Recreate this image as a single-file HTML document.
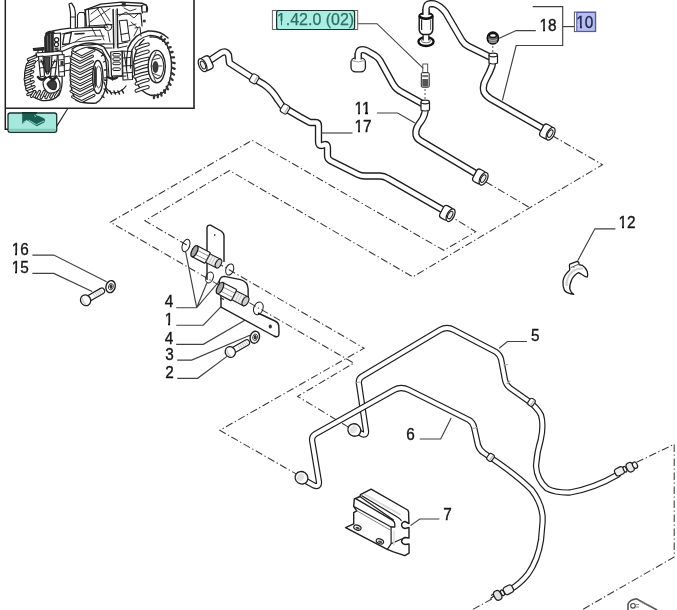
<!DOCTYPE html>
<html><head><meta charset="utf-8"><style>
html,body{margin:0;padding:0;background:#fff;}
body{width:677px;height:610px;overflow:hidden;}
svg{display:block;font-family:"Liberation Sans",sans-serif;filter:blur(0.35px);}
</style></head><body>
<svg width="677" height="610" viewBox="0 0 677 610">
<rect width="677" height="610" fill="#fff"/>
<path d="M5.3,0 L5.3,129.3 L9,129.3" fill="none" stroke="#222" stroke-width="1.5"/>
<path d="M5.3,108.3 L194,108.3 L194,0" fill="none" stroke="#222" stroke-width="1.6"/>
<path d="M56.5,126.6 L67.8,108.5" fill="none" stroke="#222" stroke-width="1.1"/>
<rect x="8" y="113" width="48.7" height="19.3" rx="2.2" fill="#a6e8dd" stroke="#17332f" stroke-width="1.3"/>
<rect x="8.7" y="128.7" width="47.3" height="2.4" rx="1" fill="#86cbbd"/>
<path d="M22.2,112.4 L36.7,112.4 L35.6,114.6 L44,118.2 L45.2,120 L44.2,122.4 L36.8,126.2 L28.4,121 L26.9,120.2 L23,123.4 L22.2,123.4 Z" fill="#1b5f54"/>
<path d="M23.2,122.3 L26.9,120.4 M28.6,120.2 L36.4,124.6 L44.2,120.9" fill="none" stroke="#9fe0d4" stroke-width="0.9"/>
<path d="M34.2,115.6 L36,116.6 M36.5,114.8 L37.6,115.6" fill="none" stroke="#9fe0d4" stroke-width="0.9"/>
<rect x="22" y="112.2" width="15" height="1.3" fill="#0d2a25"/>
<g><path d="M40,53 Q30,56 26,66 Q23,78 26,89 Q31,98 42,100.5 Q53,101.5 59,95 Q63,87 62,76" fill="none" stroke="#222" stroke-width="1.3" stroke-linejoin="round" stroke-linecap="round"/><path d="M44,56 Q35,60 31,70 Q29,80 32,89 Q37,95 45,96.5" fill="none" stroke="#222" stroke-width="1.0" stroke-linejoin="round" stroke-linecap="round"/><path d="M28.4,59.5 L35.4,56.7" fill="none" stroke="#262626" stroke-width="3.4" stroke-linejoin="round" stroke-linecap="round"/><path d="M28.4,59.5 L35.4,56.7" fill="none" stroke="#fff" stroke-width="1.2" stroke-linejoin="round" stroke-linecap="round"/><path d="M27.5,64.5 L34.5,61.7" fill="none" stroke="#262626" stroke-width="3.4" stroke-linejoin="round" stroke-linecap="round"/><path d="M27.5,64.5 L34.5,61.7" fill="none" stroke="#fff" stroke-width="1.2" stroke-linejoin="round" stroke-linecap="round"/><path d="M26.6,69.5 L33.6,66.7" fill="none" stroke="#262626" stroke-width="3.4" stroke-linejoin="round" stroke-linecap="round"/><path d="M26.6,69.5 L33.6,66.7" fill="none" stroke="#fff" stroke-width="1.2" stroke-linejoin="round" stroke-linecap="round"/><path d="M25.7,74.5 L32.7,71.7" fill="none" stroke="#262626" stroke-width="3.4" stroke-linejoin="round" stroke-linecap="round"/><path d="M25.7,74.5 L32.7,71.7" fill="none" stroke="#fff" stroke-width="1.2" stroke-linejoin="round" stroke-linecap="round"/><path d="M25.2,79.5 L32.2,76.7" fill="none" stroke="#262626" stroke-width="3.4" stroke-linejoin="round" stroke-linecap="round"/><path d="M25.2,79.5 L32.2,76.7" fill="none" stroke="#fff" stroke-width="1.2" stroke-linejoin="round" stroke-linecap="round"/><path d="M26.1,84.5 L33.1,81.7" fill="none" stroke="#262626" stroke-width="3.4" stroke-linejoin="round" stroke-linecap="round"/><path d="M26.1,84.5 L33.1,81.7" fill="none" stroke="#fff" stroke-width="1.2" stroke-linejoin="round" stroke-linecap="round"/><path d="M27.0,89.5 L34.0,86.7" fill="none" stroke="#262626" stroke-width="3.4" stroke-linejoin="round" stroke-linecap="round"/><path d="M27.0,89.5 L34.0,86.7" fill="none" stroke="#fff" stroke-width="1.2" stroke-linejoin="round" stroke-linecap="round"/><path d="M27.9,94.5 L34.9,91.7" fill="none" stroke="#262626" stroke-width="3.4" stroke-linejoin="round" stroke-linecap="round"/><path d="M27.9,94.5 L34.9,91.7" fill="none" stroke="#fff" stroke-width="1.2" stroke-linejoin="round" stroke-linecap="round"/><path d="M31.5,96.5 L34.7,91.5" fill="none" stroke="#262626" stroke-width="3.2" stroke-linejoin="round" stroke-linecap="round"/><path d="M31.5,96.5 L34.7,91.5" fill="none" stroke="#fff" stroke-width="1.1" stroke-linejoin="round" stroke-linecap="round"/><path d="M36.3,97.1 L39.5,91.5" fill="none" stroke="#262626" stroke-width="3.2" stroke-linejoin="round" stroke-linecap="round"/><path d="M36.3,97.1 L39.5,91.5" fill="none" stroke="#fff" stroke-width="1.1" stroke-linejoin="round" stroke-linecap="round"/><path d="M41.1,97.7 L44.3,91.5" fill="none" stroke="#262626" stroke-width="3.2" stroke-linejoin="round" stroke-linecap="round"/><path d="M41.1,97.7 L44.3,91.5" fill="none" stroke="#fff" stroke-width="1.1" stroke-linejoin="round" stroke-linecap="round"/><path d="M45.9,97.7 L49.1,91.5" fill="none" stroke="#262626" stroke-width="3.2" stroke-linejoin="round" stroke-linecap="round"/><path d="M45.9,97.7 L49.1,91.5" fill="none" stroke="#fff" stroke-width="1.1" stroke-linejoin="round" stroke-linecap="round"/><path d="M50.7,97.1 L53.9,91.5" fill="none" stroke="#262626" stroke-width="3.2" stroke-linejoin="round" stroke-linecap="round"/><path d="M50.7,97.1 L53.9,91.5" fill="none" stroke="#fff" stroke-width="1.1" stroke-linejoin="round" stroke-linecap="round"/><path d="M55.5,96.5 L58.7,91.5" fill="none" stroke="#262626" stroke-width="3.2" stroke-linejoin="round" stroke-linecap="round"/><path d="M55.5,96.5 L58.7,91.5" fill="none" stroke="#fff" stroke-width="1.1" stroke-linejoin="round" stroke-linecap="round"/><path d="M43,82 Q47,75 55,76 Q61,80 60,88 Q56,94 49,93 Q43,90 43,82 Z" fill="#fff" stroke="#222" stroke-width="1.2" stroke-linejoin="round" stroke-linecap="round"/><path d="M47,84 Q50,79 55,81 Q58,85 55,89.5 Q50,90.5 47,84 Z" fill="#3a3a3a" stroke="#222" stroke-width="1.2" stroke-linejoin="round" stroke-linecap="round"/><path d="M33.3,48.5 L43.9,47.6 L44,50 L34,50.5 Z" fill="#333" stroke="#222" stroke-width="1.2" stroke-linejoin="round" stroke-linecap="round"/><path d="M38,50 L38,54 M42,49.5 L43,53" fill="none" stroke="#222" stroke-width="1.2" stroke-linejoin="round" stroke-linecap="round"/><path d="M36,53 L62,51 L62.5,55 L37,57 Z" fill="#fff" stroke="#222" stroke-width="1.1" stroke-linejoin="round" stroke-linecap="round"/><path d="M38.5,56.5 L43,56 L44.5,76 L40.5,77 Z" fill="#fff" stroke="#222" stroke-width="1.2" stroke-linejoin="round" stroke-linecap="round"/><path d="M52,55.5 L57.5,55 L55,76 L50.5,76.5 Z" fill="#fff" stroke="#222" stroke-width="1.2" stroke-linejoin="round" stroke-linecap="round"/><path d="M44,57 L50,57 L49,72 L45.5,72 Z" fill="#4a4a4a" stroke="#222" stroke-width="1.1" stroke-linejoin="round" stroke-linecap="round"/><path d="M41,60 L47,74 M55,60 L48,74" fill="none" stroke="#222" stroke-width="1.2" stroke-linejoin="round" stroke-linecap="round"/><path d="M38,77 Q41.5,82 45.5,77.5 M49.5,77 Q53,81.5 56.5,76.5" fill="none" stroke="#222" stroke-width="2.6" stroke-linejoin="round" stroke-linecap="round"/><path d="M39.5,62 L43.5,61.5 M40,68 L44,67.5 M51.5,62 L56.5,61.5 M51,68 L56,67.5" fill="none" stroke="#222" stroke-width="1.0" stroke-linejoin="round" stroke-linecap="round"/><path d="M58,55 L64,54.5 L64.5,76 L59,76.5 Z" fill="#fff" stroke="#222" stroke-width="1.1" stroke-linejoin="round" stroke-linecap="round"/><path d="M59,60 L64,59.5 M59,66 L64.5,65.5 M59,72 L64.5,71.5" fill="none" stroke="#222" stroke-width="1.0" stroke-linejoin="round" stroke-linecap="round"/><path d="M64,57 L70,56 M64.5,64 L70,63 M64.5,71 L70,70" fill="none" stroke="#222" stroke-width="1.0" stroke-linejoin="round" stroke-linecap="round"/><rect x="60.5" y="61" width="3" height="4" fill="#333"/><path d="M45,52 L44.8,37.5 Q45.5,33 50.5,32 L54,31.8 L53.8,51.6 Z" fill="#2b2b2b" stroke="#222" stroke-width="1.2" stroke-linejoin="round" stroke-linecap="round"/><path d="M47.5,36 L47.8,50.5 M50.5,34 L50.8,51" fill="none" stroke="#777" stroke-width="0.8" stroke-linejoin="round" stroke-linecap="round"/><path d="M53.8,33.5 L60.5,33 L60.5,50 L53.8,51.4" fill="#fff" stroke="#222" stroke-width="1.2" stroke-linejoin="round" stroke-linecap="round"/><circle cx="56.6" cy="39.8" r="2.1" fill="#fff" stroke="#222" stroke-width="1.2"/><circle cx="56.4" cy="44.4" r="2.1" fill="#fff" stroke="#222" stroke-width="1.2"/><rect x="54.5" y="47.5" width="4" height="2.4" fill="#444"/><path d="M45.7,33.9 Q47,31.5 51.9,31.2 Q60,29 70,28.2 L102,27 L106,27.5" fill="none" stroke="#222" stroke-width="1.3" stroke-linejoin="round" stroke-linecap="round"/><path d="M62,34 L72,31.5 L100,30.2" fill="none" stroke="#222" stroke-width="0.9" stroke-linejoin="round" stroke-linecap="round"/><path d="M62,51.5 L75,45.8 L104,43.8" fill="none" stroke="#222" stroke-width="1.2" stroke-linejoin="round" stroke-linecap="round"/><path d="M64.3,33.9 L71.4,32.5 L69.2,43.6 L62.6,44.5 Z" fill="#fff" stroke="#222" stroke-width="1.3" stroke-linejoin="round" stroke-linecap="round"/><path d="M75,34 L84,33.5" fill="none" stroke="#222" stroke-width="1.6" stroke-linejoin="round" stroke-linecap="round"/><path d="M62,47 Q68,44 75,42 L101,39.5" fill="none" stroke="#222" stroke-width="0.9" stroke-linejoin="round" stroke-linecap="round"/><path d="M75,42 Q80,37 92,36 L104,36" fill="none" stroke="#222" stroke-width="0.9" stroke-linejoin="round" stroke-linecap="round"/><path d="M70.5,28 L70.5,13 Q70,8 69,4 L71.5,3 Q74.8,7 75.3,12 L75.3,28" fill="#fff" stroke="#222" stroke-width="1.2" stroke-linejoin="round" stroke-linecap="round"/><path d="M70.5,17 L75.3,17" fill="none" stroke="#222" stroke-width="1.0" stroke-linejoin="round" stroke-linecap="round"/><path d="M77.5,27.5 L77.5,15 L79.5,12.5 L84,12.5 L85,15.5 L85,27" fill="#fff" stroke="#222" stroke-width="1.1" stroke-linejoin="round" stroke-linecap="round"/><path d="M85.2,9.8 L100.7,4.1 L121.4,2.1 L142,3.2 L146.2,5.2" fill="none" stroke="#222" stroke-width="1.4" stroke-linejoin="round" stroke-linecap="round"/><path d="M85.2,9.8 L100.7,7.2 L123.4,5.2 L142,6.2" fill="none" stroke="#222" stroke-width="1.2" stroke-linejoin="round" stroke-linecap="round"/><path d="M85.2,9.8 L86.2,26" fill="none" stroke="#222" stroke-width="1.6" stroke-linejoin="round" stroke-linecap="round"/><path d="M88.5,10.5 L89.5,26.5" fill="none" stroke="#222" stroke-width="1.0" stroke-linejoin="round" stroke-linecap="round"/><path d="M113.1,9.5 L113.8,48 M117.2,9 L117.8,47.6" fill="none" stroke="#222" stroke-width="1.5" stroke-linejoin="round" stroke-linecap="round"/><path d="M115.5,10 L116,47" fill="none" stroke="#999" stroke-width="0.7" stroke-linejoin="round" stroke-linecap="round"/><path d="M97,8 L103,18 L108,28 M101,7.5 L110,21 M91,14 L99,8 M90,22 L110,8.5" fill="none" stroke="#222" stroke-width="0.9" stroke-linejoin="round" stroke-linecap="round"/><path d="M88,26 L112,24.5" fill="none" stroke="#222" stroke-width="1.1" stroke-linejoin="round" stroke-linecap="round"/><path d="M117.2,14.5 L141,13.4 L142,26" fill="none" stroke="#222" stroke-width="1.2" stroke-linejoin="round" stroke-linecap="round"/><path d="M141.5,6 L142.5,13" fill="none" stroke="#222" stroke-width="1.2" stroke-linejoin="round" stroke-linecap="round"/><rect x="121.8" y="2.5" width="4" height="4" fill="#333"/><rect x="142" y="5" width="4.5" height="7" rx="1" fill="#fff" stroke="#222" stroke-width="1.1"/><circle cx="144.3" cy="21" r="1.6" fill="#333"/><path d="M119.3,20.7 L127,20 L128.6,33 L121,34.5 Z" fill="#fff" stroke="#222" stroke-width="1.1" stroke-linejoin="round" stroke-linecap="round"/><path d="M121,34.5 L122,42 L130,40.5 L128.6,33" fill="none" stroke="#222" stroke-width="1.0" stroke-linejoin="round" stroke-linecap="round"/><path d="M104,26 Q108,22 112,26 Q112,30 108,31 Q104,30 104,26 Z" fill="none" stroke="#222" stroke-width="1.0" stroke-linejoin="round" stroke-linecap="round"/><path d="M119,16 L126,12 L134,18 L138,14 M131,22 L138,28 L134,36" fill="none" stroke="#222" stroke-width="0.9" stroke-linejoin="round" stroke-linecap="round"/><path d="M124,8 L130,11 L136,9 M129,26 L136,24" fill="none" stroke="#222" stroke-width="0.9" stroke-linejoin="round" stroke-linecap="round"/><path d="M92,28 L96,36 M100,30 L104,40 M108,32 L110,42" fill="none" stroke="#222" stroke-width="0.9" stroke-linejoin="round" stroke-linecap="round"/><path d="M118,44 L128,42 M118,48 L127,46" fill="none" stroke="#222" stroke-width="1.0" stroke-linejoin="round" stroke-linecap="round"/><path d="M135,28 L140,27 L141,36" fill="none" stroke="#222" stroke-width="1.0" stroke-linejoin="round" stroke-linecap="round"/><path d="M146.2,5.2 Q148.5,8 147,12" fill="none" stroke="#222" stroke-width="1.2" stroke-linejoin="round" stroke-linecap="round"/><path d="M72,49 Q88,38 104,47 L111.5,60 L112.5,80" fill="none" stroke="#222" stroke-width="1.4" stroke-linejoin="round" stroke-linecap="round"/><path d="M75,52 Q89,43 102,50 L108,61 L109,78" fill="none" stroke="#222" stroke-width="1.1" stroke-linejoin="round" stroke-linecap="round"/><path d="M73,50 Q70,58 70.3,76 Q70.6,92 76,100 Q84,104 96,103 Q104,99 106.5,84 Q108,70 105,57 Q100,48.5 88,47.8" fill="none" stroke="#222" stroke-width="1.4" stroke-linejoin="round" stroke-linecap="round"/><path d="M72.5,52.0 L81.5,56.8 L94.0,50.5" fill="none" stroke="#262626" stroke-width="3.0" stroke-linejoin="round" stroke-linecap="round"/><path d="M72.5,52.0 L81.5,56.8 L94.0,50.5" fill="none" stroke="#fff" stroke-width="1.0" stroke-linejoin="round" stroke-linecap="round"/><path d="M71.0,57.6 L80.0,62.4 L92.5,56.1" fill="none" stroke="#262626" stroke-width="3.0" stroke-linejoin="round" stroke-linecap="round"/><path d="M71.0,57.6 L80.0,62.4 L92.5,56.1" fill="none" stroke="#fff" stroke-width="1.0" stroke-linejoin="round" stroke-linecap="round"/><path d="M71.0,63.2 L80.0,68.0 L92.5,61.7" fill="none" stroke="#262626" stroke-width="3.0" stroke-linejoin="round" stroke-linecap="round"/><path d="M71.0,63.2 L80.0,68.0 L92.5,61.7" fill="none" stroke="#fff" stroke-width="1.0" stroke-linejoin="round" stroke-linecap="round"/><path d="M71.0,68.8 L80.0,73.6 L92.5,67.3" fill="none" stroke="#262626" stroke-width="3.0" stroke-linejoin="round" stroke-linecap="round"/><path d="M71.0,68.8 L80.0,73.6 L92.5,67.3" fill="none" stroke="#fff" stroke-width="1.0" stroke-linejoin="round" stroke-linecap="round"/><path d="M71.0,74.4 L80.0,79.2 L92.5,72.9" fill="none" stroke="#262626" stroke-width="3.0" stroke-linejoin="round" stroke-linecap="round"/><path d="M71.0,74.4 L80.0,79.2 L92.5,72.9" fill="none" stroke="#fff" stroke-width="1.0" stroke-linejoin="round" stroke-linecap="round"/><path d="M71.0,80.0 L80.0,84.8 L92.5,78.5" fill="none" stroke="#262626" stroke-width="3.0" stroke-linejoin="round" stroke-linecap="round"/><path d="M71.0,80.0 L80.0,84.8 L92.5,78.5" fill="none" stroke="#fff" stroke-width="1.0" stroke-linejoin="round" stroke-linecap="round"/><path d="M71.0,85.6 L80.0,90.4 L92.5,84.1" fill="none" stroke="#262626" stroke-width="3.0" stroke-linejoin="round" stroke-linecap="round"/><path d="M71.0,85.6 L80.0,90.4 L92.5,84.1" fill="none" stroke="#fff" stroke-width="1.0" stroke-linejoin="round" stroke-linecap="round"/><path d="M71.0,91.2 L80.0,96.0 L92.5,89.7" fill="none" stroke="#262626" stroke-width="3.0" stroke-linejoin="round" stroke-linecap="round"/><path d="M71.0,91.2 L80.0,96.0 L92.5,89.7" fill="none" stroke="#fff" stroke-width="1.0" stroke-linejoin="round" stroke-linecap="round"/><path d="M72.5,96.8 L81.5,101.6 L94.0,95.3" fill="none" stroke="#262626" stroke-width="3.0" stroke-linejoin="round" stroke-linecap="round"/><path d="M72.5,96.8 L81.5,101.6 L94.0,95.3" fill="none" stroke="#fff" stroke-width="1.0" stroke-linejoin="round" stroke-linecap="round"/><ellipse cx="97.8" cy="77" rx="5.2" ry="16.5" fill="#fff" stroke="#222" stroke-width="1.4"/><ellipse cx="98.6" cy="77" rx="3" ry="11" fill="#fff" stroke="#444" stroke-width="1.0"/><ellipse cx="95.3" cy="77" rx="1.6" ry="11" fill="#333"/><path d="M101.5,56 l2,-1.5 M103.5,62 l2,-1 M104.5,70 l2,0 M104.5,80 l2,0.5 M104,89 l2,1 M102,96 l2,1.5" fill="none" stroke="#222" stroke-width="1.3" stroke-linejoin="round" stroke-linecap="round"/><path d="M110.7,52 L122,51 L122.4,75.5 L111.5,76 Z" fill="#fff" stroke="#222" stroke-width="1.2" stroke-linejoin="round" stroke-linecap="round"/><rect x="112.8" y="53.5" width="7.6" height="2.6" rx="1.2" fill="#fff" stroke="#222" stroke-width="1.0"/><rect x="112.8" y="57.8" width="7.6" height="2.6" rx="1.2" fill="#fff" stroke="#222" stroke-width="1.0"/><rect x="112.8" y="62.099999999999994" width="7.6" height="2.6" rx="1.2" fill="#fff" stroke="#222" stroke-width="1.0"/><rect x="112.8" y="67.89999999999999" width="7.6" height="2.6" rx="1.2" fill="#fff" stroke="#222" stroke-width="1.0"/><path d="M122.4,51 L132,51.5 L132.5,79.5 L123,80 Z" fill="#fff" stroke="#222" stroke-width="1.1" stroke-linejoin="round" stroke-linecap="round"/><path d="M123,58 L131,57.5 M123,66 L132,65.5 M123.5,73 L132,72.5 M124,52 L128,79" fill="none" stroke="#222" stroke-width="1.0" stroke-linejoin="round" stroke-linecap="round"/><path d="M107.5,77 Q112,80.5 117,77.5" fill="none" stroke="#222" stroke-width="2.2" stroke-linejoin="round" stroke-linecap="round"/><path d="M104,44 L114,44 M104,48 L112,48" fill="none" stroke="#222" stroke-width="1.0" stroke-linejoin="round" stroke-linecap="round"/><path d="M104,82 Q106,92 114,93 Q122,92 126,86" fill="none" stroke="#222" stroke-width="1.2" stroke-linejoin="round" stroke-linecap="round"/><path d="M106,90 l1.5,3" fill="none" stroke="#222" stroke-width="1.6" stroke-linejoin="round" stroke-linecap="round"/><path d="M110,91 l1.5,3" fill="none" stroke="#222" stroke-width="1.6" stroke-linejoin="round" stroke-linecap="round"/><path d="M114,91 l1.5,3" fill="none" stroke="#222" stroke-width="1.6" stroke-linejoin="round" stroke-linecap="round"/><path d="M118,91 l1.5,3" fill="none" stroke="#222" stroke-width="1.6" stroke-linejoin="round" stroke-linecap="round"/><path d="M122,90 l1.5,3" fill="none" stroke="#222" stroke-width="1.6" stroke-linejoin="round" stroke-linecap="round"/><path d="M104,78 L126,76" fill="none" stroke="#222" stroke-width="1.0" stroke-linejoin="round" stroke-linecap="round"/><path d="M128,48 Q134,34 148,31 Q160,30 168,38" fill="none" stroke="#222" stroke-width="1.5" stroke-linejoin="round" stroke-linecap="round"/><path d="M132,50 Q137,38 149,35.5 Q159,35 165,42" fill="none" stroke="#222" stroke-width="1.2" stroke-linejoin="round" stroke-linecap="round"/><path d="M128,48 Q126,58 126.5,70 M132,50 Q130,58 130.5,68" fill="none" stroke="#222" stroke-width="1.2" stroke-linejoin="round" stroke-linecap="round"/><path d="M150,37 Q161,36 167,45 Q172,56 171.5,68 Q171,82 165,91 Q158,97 150,95 Q141,92 137,83 Q133,73 134,60 Q136,46 144,39.5" fill="none" stroke="#222" stroke-width="1.4" stroke-linejoin="round" stroke-linecap="round"/><path d="M160.0,38.5 L161.5,36.4 M163.0,40.9 L165.0,39.2 M165.8,44.0 L168.0,42.8 M168.2,47.9 L170.6,47.1 M170.0,52.4 L172.6,52.0 M171.3,57.3 L174.0,57.4 M172.1,62.5 L174.7,63.1 M172.2,67.8 L174.7,68.9 M171.6,73.0 L174.0,74.6 M170.5,78.0 L172.6,80.0 M168.8,82.7 L170.6,84.9 M166.6,86.7 L168.0,89.2 M164.0,90.2 L165.0,92.8 M161.0,92.8 L161.5,95.6 M157.8,94.6 L157.8,97.3 M154.4,95.4 L153.9,98.1" fill="none" stroke="#333" stroke-width="2.3" stroke-linejoin="round" stroke-linecap="round"/><path d="M136.5,48.2 Q142.5,45.5 147.8,44.4" fill="none" stroke="#262626" stroke-width="4.0" stroke-linejoin="round" stroke-linecap="round"/><path d="M136.5,48.2 Q142.5,45.5 147.8,44.4" fill="none" stroke="#fff" stroke-width="1.8" stroke-linejoin="round" stroke-linecap="round"/><path d="M136.5,55.3 Q142.5,52.6 147.8,51.5" fill="none" stroke="#262626" stroke-width="4.0" stroke-linejoin="round" stroke-linecap="round"/><path d="M136.5,55.3 Q142.5,52.6 147.8,51.5" fill="none" stroke="#fff" stroke-width="1.8" stroke-linejoin="round" stroke-linecap="round"/><path d="M135.0,62.4 Q141.0,59.7 147.8,58.6" fill="none" stroke="#262626" stroke-width="4.0" stroke-linejoin="round" stroke-linecap="round"/><path d="M135.0,62.4 Q141.0,59.7 147.8,58.6" fill="none" stroke="#fff" stroke-width="1.8" stroke-linejoin="round" stroke-linecap="round"/><path d="M136.0,69.5 Q142.0,66.8 147.8,65.7" fill="none" stroke="#262626" stroke-width="4.0" stroke-linejoin="round" stroke-linecap="round"/><path d="M136.0,69.5 Q142.0,66.8 147.8,65.7" fill="none" stroke="#fff" stroke-width="1.8" stroke-linejoin="round" stroke-linecap="round"/><path d="M135.0,76.6 Q141.0,73.9 147.8,72.8" fill="none" stroke="#262626" stroke-width="4.0" stroke-linejoin="round" stroke-linecap="round"/><path d="M135.0,76.6 Q141.0,73.9 147.8,72.8" fill="none" stroke="#fff" stroke-width="1.8" stroke-linejoin="round" stroke-linecap="round"/><path d="M136.5,83.7 Q142.5,81.0 147.8,79.9" fill="none" stroke="#262626" stroke-width="4.0" stroke-linejoin="round" stroke-linecap="round"/><path d="M136.5,83.7 Q142.5,81.0 147.8,79.9" fill="none" stroke="#fff" stroke-width="1.8" stroke-linejoin="round" stroke-linecap="round"/><path d="M136.5,90.8 Q142.5,88.1 147.8,87.0" fill="none" stroke="#262626" stroke-width="4.0" stroke-linejoin="round" stroke-linecap="round"/><path d="M136.5,90.8 Q142.5,88.1 147.8,87.0" fill="none" stroke="#fff" stroke-width="1.8" stroke-linejoin="round" stroke-linecap="round"/><ellipse cx="156.7" cy="66.6" rx="8.6" ry="16.2" fill="#fff" stroke="#222" stroke-width="1.4"/><ellipse cx="157.5" cy="66.6" rx="6.2" ry="12" fill="#fff" stroke="#333" stroke-width="1.1"/><ellipse cx="155.5" cy="67" rx="3" ry="6" fill="#3a3a3a"/><path d="M152,60 L160,58 M152,73 L160,76 M151,66 L162,66 M154,56 L156,52 M154,78 L156,82" fill="none" stroke="#444" stroke-width="1.0" stroke-linejoin="round" stroke-linecap="round"/></g>
<path d="M447,214 L475.7,231.7 L443.8,250.3 L252,140.3 L110.3,222.2 L353.8,363.1 L297.6,396.4 L355,431" fill="none" stroke="#383838" stroke-width="1.05" stroke-dasharray="7.5 2.6 1.3 2.6"/>
<path d="M552,135.5 L602.5,164.7 L412.8,276.9 L229.4,170.5 L144.9,220.7 L364.1,348.2 L219.8,430.3 L297.3,474.6" fill="none" stroke="#383838" stroke-width="1.05" stroke-dasharray="7.5 2.6 1.3 2.6"/>
<path d="M486,182 L529.6,207.5" fill="none" stroke="#383838" stroke-width="1.05" stroke-dasharray="7.5 2.6 1.3 2.6"/>
<path d="M636.6,462.3 L674.2,444.2 L674.2,557 L580,611" fill="none" stroke="#383838" stroke-width="1.05" stroke-dasharray="7.5 2.6 1.3 2.6"/>
<path d="M491.8,599 L470,611" fill="none" stroke="#383838" stroke-width="1.05" stroke-dasharray="7.5 2.6 1.3 2.6"/>
<path d="M209,61 L221,53 Q226,50 228.5,55 L229.5,63 L252,77.5 L264,84.5 Q272,90 278,100 L283,107 L300,117 L310,122.5 L315.5,122.5 Q318.5,122.5 318.5,126 L318.5,142 Q318.5,146 322,145.5 L325,144.5 Q327.5,144 327.5,148 L327.5,156 Q327.5,159 331,161 L358,174.5 Q361,176 365,176 L380,176 Q384,176 388,178.5 L443,210" fill="none" stroke="#1e1e1e" stroke-width="7.3" stroke-linecap="round" stroke-linejoin="round"/>
<path d="M209,61 L221,53 Q226,50 228.5,55 L229.5,63 L252,77.5 L264,84.5 Q272,90 278,100 L283,107 L300,117 L310,122.5 L315.5,122.5 Q318.5,122.5 318.5,126 L318.5,142 Q318.5,146 322,145.5 L325,144.5 Q327.5,144 327.5,148 L327.5,156 Q327.5,159 331,161 L358,174.5 Q361,176 365,176 L380,176 Q384,176 388,178.5 L443,210" fill="none" stroke="#fff" stroke-width="4.6" stroke-linecap="round" stroke-linejoin="round"/>
<path d="M358.2,60 L358.2,54 Q358.4,49.6 362.5,49.6 Q365,49.6 367,50.8 L375,55.5 Q378.5,57.8 380,60.5 L393,84 Q396,89.5 401.5,92 L424,104.5" fill="none" stroke="#1e1e1e" stroke-width="7.3" stroke-linecap="round" stroke-linejoin="round"/>
<path d="M358.2,60 L358.2,54 Q358.4,49.6 362.5,49.6 Q365,49.6 367,50.8 L375,55.5 Q378.5,57.8 380,60.5 L393,84 Q396,89.5 401.5,92 L424,104.5" fill="none" stroke="#fff" stroke-width="4.6" stroke-linecap="round" stroke-linejoin="round"/>
<path d="M425,106 L425,112 Q424,118 419,124 Q415,130 416,135 Q417,139 421,141 L474,172.5" fill="none" stroke="#1e1e1e" stroke-width="7.3" stroke-linecap="round" stroke-linejoin="round"/>
<path d="M425,106 L425,112 Q424,118 419,124 Q415,130 416,135 Q417,139 421,141 L474,172.5" fill="none" stroke="#fff" stroke-width="4.6" stroke-linecap="round" stroke-linejoin="round"/>
<path d="M426,14 L426,8 Q426.5,3.6 431,3.6 L434,3.8 Q440,5.5 445.6,12.5 L462,40.5 Q464.5,44.5 468.5,46.4 L490,57" fill="none" stroke="#1e1e1e" stroke-width="7.3" stroke-linecap="round" stroke-linejoin="round"/>
<path d="M426,14 L426,8 Q426.5,3.6 431,3.6 L434,3.8 Q440,5.5 445.6,12.5 L462,40.5 Q464.5,44.5 468.5,46.4 L490,57" fill="none" stroke="#fff" stroke-width="4.6" stroke-linecap="round" stroke-linejoin="round"/>
<path d="M493,60 L492,66 Q490,72 486,79 Q482,86 484,92 Q486,96 491,99 L542,128" fill="none" stroke="#1e1e1e" stroke-width="7.3" stroke-linecap="round" stroke-linejoin="round"/>
<path d="M493,60 L492,66 Q490,72 486,79 Q482,86 484,92 Q486,96 491,99 L542,128" fill="none" stroke="#fff" stroke-width="4.6" stroke-linecap="round" stroke-linejoin="round"/>
<path d="M358,432 L363,434.5 Q366.5,435 366,431 L359,384 Q358,379 362,376.5 L440,330 Q447,326 454,330 L496,352 Q500,355 501,359 L505,380 Q506,385 510,388 L527,400 Q537,407 541,415 Q544,425 540.7,440 Q537,452 536,466 Q537,480 547,488.5 Q556,493 570,492.5 Q595,488 618,474.5" fill="none" stroke="#1e1e1e" stroke-width="6.3" stroke-linecap="round" stroke-linejoin="round"/>
<path d="M358,432 L363,434.5 Q366.5,435 366,431 L359,384 Q358,379 362,376.5 L440,330 Q447,326 454,330 L496,352 Q500,355 501,359 L505,380 Q506,385 510,388 L527,400 Q537,407 541,415 Q544,425 540.7,440 Q537,452 536,466 Q537,480 547,488.5 Q556,493 570,492.5 Q595,488 618,474.5" fill="none" stroke="#fff" stroke-width="3.9" stroke-linecap="round" stroke-linejoin="round"/>
<path d="M306,481 L314,485.5 Q319.5,487.5 319,482 L312.2,441 Q311.4,436.5 315.4,434 L394,390 Q401,386 409,390 L469,420 Q473,422.5 474,427 L478,445 Q479.5,450 484,453 L500,464 Q519.7,478 531.5,489.8 Q541,502 542.6,516 L542.6,522 L541,540 Q538,560 528,574 Q520,584 511,589" fill="none" stroke="#1e1e1e" stroke-width="6.3" stroke-linecap="round" stroke-linejoin="round"/>
<path d="M306,481 L314,485.5 Q319.5,487.5 319,482 L312.2,441 Q311.4,436.5 315.4,434 L394,390 Q401,386 409,390 L469,420 Q473,422.5 474,427 L478,445 Q479.5,450 484,453 L500,464 Q519.7,478 531.5,489.8 Q541,502 542.6,516 L542.6,522 L541,540 Q538,560 528,574 Q520,584 511,589" fill="none" stroke="#fff" stroke-width="3.9" stroke-linecap="round" stroke-linejoin="round"/>
<g transform="translate(206.90 63.19) rotate(-25)"><rect x="-4.75" y="-7.0" width="9.5" height="14" rx="3.2" fill="#fff" stroke="#1e1e1e" stroke-width="1.25"/><ellipse cx="-4.75" cy="0" rx="3.64" ry="7.00" fill="#fff" stroke="#1e1e1e" stroke-width="1.25"/><ellipse cx="-4.35" cy="0" rx="2.10" ry="4.20" fill="#eee" stroke="#1e1e1e" stroke-width="1"/></g>
<g transform="translate(254.2 78.8) rotate(30)"><rect x="-3.75" y="-4.5" width="7.5" height="9" rx="2.2" fill="#fff" stroke="#1e1e1e" stroke-width="1.1"/><line x1="1.75" y1="-3.5" x2="1.75" y2="3.5" stroke="#bbb" stroke-width="1.4"/></g>
<g transform="translate(285 109) rotate(32)"><rect x="-3.75" y="-4.5" width="7.5" height="9" rx="2.2" fill="#fff" stroke="#1e1e1e" stroke-width="1.1"/><line x1="1.75" y1="-3.5" x2="1.75" y2="3.5" stroke="#bbb" stroke-width="1.4"/></g>
<g transform="translate(446.19 212.85) rotate(208)"><rect x="-5.0" y="-6.9" width="10" height="13.8" rx="3.2" fill="#fff" stroke="#1e1e1e" stroke-width="1.25"/><ellipse cx="-5.0" cy="0" rx="3.59" ry="6.90" fill="#fff" stroke="#1e1e1e" stroke-width="1.25"/><ellipse cx="-4.60" cy="0" rx="2.07" ry="4.14" fill="#eee" stroke="#1e1e1e" stroke-width="1"/></g>
<g transform="translate(479.19 176.45) rotate(208)"><rect x="-5.0" y="-6.9" width="10" height="13.8" rx="3.2" fill="#fff" stroke="#1e1e1e" stroke-width="1.25"/><ellipse cx="-5.0" cy="0" rx="3.59" ry="6.90" fill="#fff" stroke="#1e1e1e" stroke-width="1.25"/><ellipse cx="-4.60" cy="0" rx="2.07" ry="4.14" fill="#eee" stroke="#1e1e1e" stroke-width="1"/></g>
<g transform="translate(546.19 131.45) rotate(208)"><rect x="-5.0" y="-6.9" width="10" height="13.8" rx="3.2" fill="#fff" stroke="#1e1e1e" stroke-width="1.25"/><ellipse cx="-5.0" cy="0" rx="3.59" ry="6.90" fill="#fff" stroke="#1e1e1e" stroke-width="1.25"/><ellipse cx="-4.60" cy="0" rx="2.07" ry="4.14" fill="#eee" stroke="#1e1e1e" stroke-width="1"/></g>
<rect x="351" y="57.8" width="14.4" height="14" rx="4.5" fill="#fff" stroke="#1e1e1e" stroke-width="1.3"/>
<path d="M358.2,59.5 L358.2,53" fill="none" stroke="#1e1e1e" stroke-width="7.3"/>
<path d="M358.2,60 L358.2,53" fill="none" stroke="#fff" stroke-width="4.8"/>
<path d="M351.5,60.5 Q358.2,63.5 365,60.5" fill="none" stroke="#999" stroke-width="1"/>
<g transform="translate(354.3 430) rotate(35)"><ellipse rx="6.6" ry="6.1" fill="#fff" stroke="#1e1e1e" stroke-width="1.3"/><ellipse cx="-1" rx="3.2" ry="4.2" fill="#e2e2e2" stroke="none"/></g>
<g transform="translate(301.5 477.8) rotate(35)"><ellipse rx="6.6" ry="6.1" fill="#fff" stroke="#1e1e1e" stroke-width="1.3"/><ellipse cx="-1" rx="3.2" ry="4.2" fill="#e2e2e2" stroke="none"/></g>
<ellipse cx="426" cy="41.6" rx="7.6" ry="4.4" fill="#fff" stroke="#111" stroke-width="2.3"/>
<ellipse cx="426" cy="40.8" rx="4.6" ry="2" fill="#fff" stroke="#666" stroke-width="0.9"/>
<path d="M423.2,40.5 L423.2,34.5 L428.8,34.5 L428.8,40.5" fill="#fff" stroke="#1e1e1e" stroke-width="1.1"/>
<rect x="423.5" y="32.5" width="5" height="2" fill="#aaa"/>
<path d="M419.2,16 L419.2,29.5 Q419.5,33.5 423,34.5 L429,34.5 Q432.5,33.5 432.8,29.5 L432.8,16" fill="#fff" stroke="#1e1e1e" stroke-width="1.5"/>
<line x1="421.6" y1="19.5" x2="421.6" y2="30" stroke="#222" stroke-width="1.2"/>
<line x1="430.6" y1="19.5" x2="430.6" y2="30" stroke="#666" stroke-width="1.1"/>
<ellipse cx="426" cy="16" rx="6.8" ry="3" fill="#fff" stroke="#111" stroke-width="1.8"/>
<path d="M426,15 L426,9" fill="none" stroke="#1e1e1e" stroke-width="7.3"/>
<path d="M426,15.6 L426,9" fill="none" stroke="#fff" stroke-width="4.8"/>
<path d="M419.3,16.3 Q426,20.5 432.7,16.3" fill="none" stroke="#111" stroke-width="1.8"/>
<path d="M421,102 L421,110 Q425,112 429.5,110 L429.5,102" fill="#fff" stroke="#1e1e1e" stroke-width="1.2"/>
<ellipse cx="425.2" cy="102" rx="4.2" ry="1.8" fill="#fff" stroke="#1e1e1e" stroke-width="1.2"/>
<path d="M489,55 L489,63 Q493,65 497.5,63 L497.5,55" fill="#fff" stroke="#1e1e1e" stroke-width="1.2"/>
<ellipse cx="493.2" cy="55" rx="4.2" ry="1.8" fill="#fff" stroke="#1e1e1e" stroke-width="1.2"/>
<line x1="425" y1="89" x2="425" y2="100" stroke="#555" stroke-width="1" stroke-dasharray="2 2"/>
<line x1="492.8" y1="46" x2="492.8" y2="53" stroke="#555" stroke-width="1" stroke-dasharray="2 2"/>
<rect x="422.8" y="64" width="4.9" height="9" fill="#fff" stroke="#444" stroke-width="0.9"/>
<rect x="421.3" y="72.7" width="7.9" height="14.5" rx="1" fill="#fff" stroke="#1e1e1e" stroke-width="1"/>
<rect x="422.3" y="79" width="5.9" height="7.5" fill="#555"/>
<rect x="422.3" y="75" width="5.9" height="2.2" fill="#777"/>
<ellipse cx="492.9" cy="38" rx="5.6" ry="5.8" fill="#6a6a6a" stroke="#111" stroke-width="1.7"/>
<path d="M488.6,39.6 Q492.9,42 497.2,39.6 M489,41.8 Q492.9,43.6 496.8,41.8" fill="none" stroke="#bbb" stroke-width="0.9"/>
<ellipse cx="492.9" cy="35.4" rx="3.5" ry="1.9" fill="#fff" stroke="#111" stroke-width="1.3"/>
<path d="M32.4,255.1 L53.8,255.1 L106.6,281.8" fill="none" stroke="#404040" stroke-width="1.15"/>
<path d="M32.4,273.4 L53.8,273.4 L92.2,291.4" fill="none" stroke="#404040" stroke-width="1.15"/>
<path d="M176.2,307.7 L196.7,307.7 M196.7,307.7 L185.6,251.6 M196.7,307.7 L206.7,283.2 M196.7,307.7 L223.7,276" fill="none" stroke="#404040" stroke-width="1.15"/>
<path d="M176.2,325.2 L203.3,325.2 L221.3,306.4" fill="none" stroke="#404040" stroke-width="1.15"/>
<path d="M176.2,344.3 L203.3,344.3 L253,315.5" fill="none" stroke="#404040" stroke-width="1.15"/>
<path d="M177.2,360.1 L191.7,360.1 L250.5,335" fill="none" stroke="#404040" stroke-width="1.15"/>
<path d="M177.2,378.3 L197.6,378.3 L227,356.4" fill="none" stroke="#404040" stroke-width="1.15"/>
<path d="M377,113 L397.7,113 L414.9,122.9" fill="none" stroke="#404040" stroke-width="1.15"/>
<path d="M321,133 L352.5,133" fill="none" stroke="#404040" stroke-width="1.15"/>
<path d="M532.7,6.6 L562.7,6.6 L562.7,45.5 L516.2,45.5 L502.4,100.4" fill="none" stroke="#404040" stroke-width="1.15"/>
<path d="M562.7,26.6 L574.4,26.6" fill="none" stroke="#404040" stroke-width="1.15"/>
<path d="M535.8,30.6 L516.2,30.6 L499.3,38.2" fill="none" stroke="#404040" stroke-width="1.15"/>
<path d="M615.4,228.8 L594.9,228.8 L577.7,260.7" fill="none" stroke="#404040" stroke-width="1.15"/>
<path d="M499.2,348.3 L507.4,341.5 L526.9,341.5" fill="none" stroke="#404040" stroke-width="1.15"/>
<path d="M451.2,418 L440.7,439 L419.7,439" fill="none" stroke="#404040" stroke-width="1.15"/>
<path d="M410.5,525.6 L419.7,519 L439.4,519" fill="none" stroke="#404040" stroke-width="1.15"/>
<path d="M357.9,23.7 L377,23.7 L423.3,68.3" fill="none" stroke="#404040" stroke-width="1.15"/>
<text transform="translate(11.75 254.50) scale(0.93 1)" font-size="16.5" fill="#151515" stroke="#151515" stroke-width="0.35">16</text>
<text transform="translate(11.75 272.80) scale(0.93 1)" font-size="16.5" fill="#151515" stroke="#151515" stroke-width="0.35">15</text>
<text transform="translate(164.65 307.40) scale(0.93 1)" font-size="16.5" fill="#151515" stroke="#151515" stroke-width="0.35">4</text>
<text transform="translate(164.75 325.20) scale(0.93 1)" font-size="16.5" fill="#151515" stroke="#151515" stroke-width="0.35">1</text>
<text transform="translate(164.65 343.80) scale(0.93 1)" font-size="16.5" fill="#151515" stroke="#151515" stroke-width="0.35">4</text>
<text transform="translate(165.30 359.70) scale(0.93 1)" font-size="16.5" fill="#151515" stroke="#151515" stroke-width="0.35">3</text>
<text transform="translate(165.35 377.90) scale(0.93 1)" font-size="16.5" fill="#151515" stroke="#151515" stroke-width="0.35">2</text>
<text transform="translate(354.55 113.80) scale(0.93 1)" font-size="16.5" fill="#151515" stroke="#151515" stroke-width="0.35">11</text>
<text transform="translate(354.55 131.80) scale(0.93 1)" font-size="16.5" fill="#151515" stroke="#151515" stroke-width="0.35">17</text>
<text transform="translate(539.45 30.50) scale(0.93 1)" font-size="16.5" fill="#151515" stroke="#151515" stroke-width="0.35">18</text>
<text transform="translate(618.45 228.20) scale(0.93 1)" font-size="16.5" fill="#151515" stroke="#151515" stroke-width="0.35">12</text>
<text transform="translate(531.10 341.10) scale(0.93 1)" font-size="16.5" fill="#151515" stroke="#151515" stroke-width="0.35">5</text>
<text transform="translate(406.25 439.60) scale(0.93 1)" font-size="16.5" fill="#151515" stroke="#151515" stroke-width="0.35">6</text>
<text transform="translate(443.25 519.60) scale(0.93 1)" font-size="16.5" fill="#151515" stroke="#151515" stroke-width="0.35">7</text>
<rect x="272.4" y="10.5" width="85.3" height="19" fill="#fff" stroke="#666" stroke-width="1"/>
<rect x="276.6" y="10.5" width="78" height="19" rx="2.2" fill="#aaede3" stroke="#18302c" stroke-width="1.2"/>
<text x="276.8" y="24.7" font-size="16" fill="#2c6e63" stroke="#2c6e63" stroke-width="0.25">1.42.0 (02)</text>
<rect x="574.4" y="12.1" width="21.3" height="19.5" fill="#fff" stroke="#555" stroke-width="1"/>
<rect x="576.8" y="12.4" width="18.6" height="19" fill="#b6bef0" stroke="#55599a" stroke-width="1.1"/>
<text transform="translate(576.15 27.60) scale(0.93 1)" font-size="16.5" fill="#20284a" stroke="#20284a" stroke-width="0.35">10</text>
<path d="M207,280 L207,228 Q207,224.5 211,225.3 L221,231 Q224,233 224,236 L224,262" fill="#fff" stroke="#1e1e1e" stroke-width="1.4"/>
<rect x="214" y="234" width="1.4" height="2" fill="#555"/>
<path d="M221.3,300 L219.2,284 Q218.8,276.5 224.5,276.4 L240.5,279.6 Q247.8,281.5 248.1,289 L248.2,300.5" fill="#fff" stroke="#1e1e1e" stroke-width="1.4"/>
<path d="M221,298 L221,307 L274,336 Q279,338.5 279,333 L278.8,326 Q278.5,322.5 275,321 L258,313" fill="#fff" stroke="#1e1e1e" stroke-width="1.4"/>
<path d="M221,298 L224,299.5" fill="none" stroke="#1e1e1e" stroke-width="1.2"/>
<ellipse cx="270.3" cy="326.6" rx="1.6" ry="2" fill="#333"/>
<g transform="translate(194.5 251.2) rotate(27.32)"><rect x="13.51" y="-4.80" width="13.51" height="9.60" fill="#f2f2f2" stroke="#1e1e1e" stroke-width="1.1"/><line x1="15.67" y1="-4.20" x2="15.67" y2="4.20" stroke="#bbb" stroke-width="0.8"/><line x1="18.37" y1="-4.20" x2="18.37" y2="4.20" stroke="#bbb" stroke-width="0.8"/><line x1="21.07" y1="-4.20" x2="21.07" y2="4.20" stroke="#bbb" stroke-width="0.8"/><line x1="23.77" y1="-4.20" x2="23.77" y2="4.20" stroke="#bbb" stroke-width="0.8"/><ellipse cx="27.01" cy="0" rx="2.69" ry="4.80" fill="#cfcfcf" stroke="#1e1e1e" stroke-width="1.1"/><rect x="0" y="-6.0" width="14.86" height="12" rx="1" fill="#fff" stroke="#1e1e1e" stroke-width="1.2"/><line x1="2.16" y1="-2.16" x2="14.86" y2="-2.16" stroke="#888" stroke-width="0.8"/><line x1="2.16" y1="2.40" x2="14.86" y2="2.40" stroke="#888" stroke-width="0.8"/><ellipse cx="0" cy="0" rx="2.64" ry="6.00" fill="#a8a8a8" stroke="#1e1e1e" stroke-width="1.3"/></g>
<g transform="translate(220 288) rotate(27.37)"><rect x="14.36" y="-5.00" width="14.36" height="10.00" fill="#f2f2f2" stroke="#1e1e1e" stroke-width="1.1"/><line x1="16.65" y1="-4.40" x2="16.65" y2="4.40" stroke="#bbb" stroke-width="0.8"/><line x1="19.53" y1="-4.40" x2="19.53" y2="4.40" stroke="#bbb" stroke-width="0.8"/><line x1="22.40" y1="-4.40" x2="22.40" y2="4.40" stroke="#bbb" stroke-width="0.8"/><line x1="25.27" y1="-4.40" x2="25.27" y2="4.40" stroke="#bbb" stroke-width="0.8"/><ellipse cx="28.71" cy="0" rx="2.80" ry="5.00" fill="#cfcfcf" stroke="#1e1e1e" stroke-width="1.1"/><rect x="0" y="-6.25" width="15.79" height="12.5" rx="1" fill="#fff" stroke="#1e1e1e" stroke-width="1.2"/><line x1="2.30" y1="-2.25" x2="15.79" y2="-2.25" stroke="#888" stroke-width="0.8"/><line x1="2.30" y1="2.50" x2="15.79" y2="2.50" stroke="#888" stroke-width="0.8"/><ellipse cx="0" cy="0" rx="2.75" ry="6.25" fill="#a8a8a8" stroke="#1e1e1e" stroke-width="1.3"/></g>
<ellipse cx="186" cy="245.5" rx="3.6" ry="6.4" transform="rotate(20 186 245.5)" fill="none" stroke="#1e1e1e" stroke-width="1.0"/>
<ellipse cx="229.7" cy="269.5" rx="3.8" ry="5.8" transform="rotate(20 229.7 269.5)" fill="none" stroke="#1e1e1e" stroke-width="1.0"/>
<ellipse cx="209.5" cy="277.5" rx="3.6" ry="5.6" transform="rotate(20 209.5 277.5)" fill="none" stroke="#1e1e1e" stroke-width="1.0"/>
<ellipse cx="258.4" cy="308.3" rx="4.6" ry="6.6" transform="rotate(20 258.4 308.3)" fill="none" stroke="#1e1e1e" stroke-width="1.0"/>
<g transform="translate(85.6 300.3) rotate(-29.91)"><rect x="2" y="-2.9" width="19.46" height="5.8" rx="2.60" fill="#fff" stroke="#1e1e1e" stroke-width="1.2"/><line x1="9.66" y1="-1.90" x2="10.26" y2="1.90" stroke="#c4c4c4" stroke-width="0.9"/><line x1="11.80" y1="-1.90" x2="12.40" y2="1.90" stroke="#c4c4c4" stroke-width="0.9"/><line x1="13.95" y1="-1.90" x2="14.55" y2="1.90" stroke="#c4c4c4" stroke-width="0.9"/><line x1="16.09" y1="-1.90" x2="16.69" y2="1.90" stroke="#c4c4c4" stroke-width="0.9"/><line x1="18.24" y1="-1.90" x2="18.84" y2="1.90" stroke="#c4c4c4" stroke-width="0.9"/><ellipse cx="0" cy="0" rx="5" ry="5.5" fill="#fff" stroke="#1e1e1e" stroke-width="1.3"/><path d="M-1.5,-4 Q-4,0 -1.5,4" fill="none" stroke="#ccc" stroke-width="1.4"/></g>
<ellipse cx="110.6" cy="286.6" rx="4.6" ry="6.1" transform="rotate(15 110.6 286.6)" fill="#fff" stroke="#1e1e1e" stroke-width="1.4"/>
<ellipse cx="110.89999999999999" cy="286.6" rx="2.4" ry="3.3" transform="rotate(15 110.6 286.6)" fill="#fff" stroke="#444" stroke-width="0.9"/>
<ellipse cx="111.0" cy="286.6" rx="1.5" ry="2.3" fill="#333"/>
<g transform="translate(230.3 352) rotate(-29.52)"><rect x="2" y="-2.9" width="19.72" height="5.8" rx="2.60" fill="#fff" stroke="#1e1e1e" stroke-width="1.2"/><line x1="9.77" y1="-1.90" x2="10.37" y2="1.90" stroke="#c4c4c4" stroke-width="0.9"/><line x1="11.95" y1="-1.90" x2="12.55" y2="1.90" stroke="#c4c4c4" stroke-width="0.9"/><line x1="14.12" y1="-1.90" x2="14.72" y2="1.90" stroke="#c4c4c4" stroke-width="0.9"/><line x1="16.29" y1="-1.90" x2="16.89" y2="1.90" stroke="#c4c4c4" stroke-width="0.9"/><line x1="18.46" y1="-1.90" x2="19.06" y2="1.90" stroke="#c4c4c4" stroke-width="0.9"/><ellipse cx="0" cy="0" rx="5" ry="5.5" fill="#fff" stroke="#1e1e1e" stroke-width="1.3"/><path d="M-1.5,-4 Q-4,0 -1.5,4" fill="none" stroke="#ccc" stroke-width="1.4"/></g>
<ellipse cx="254.8" cy="337.2" rx="4.6" ry="6.1" transform="rotate(15 254.8 337.2)" fill="#fff" stroke="#1e1e1e" stroke-width="1.4"/>
<ellipse cx="255.10000000000002" cy="337.2" rx="2.4" ry="3.3" transform="rotate(15 254.8 337.2)" fill="#fff" stroke="#444" stroke-width="0.9"/>
<ellipse cx="255.20000000000002" cy="337.2" rx="1.5" ry="2.3" fill="#333"/>
<path d="M569.4,265.3 L569.8,264.2 L577.1,261.4 L578.8,262.4 L579,264.6 L582.3,265.3 Q585.5,267.5 587.3,271.5 Q588.2,275 587.1,277.2 Q585.8,277.2 580.8,273.8 L578.6,272.7 Q574.5,274.5 571.8,279.5 Q569.3,285 569.8,289 Q570.8,292.5 573.7,294.3 Q568,294 564.5,290.5 Q562.5,286 563,281 Q564,275.5 568.3,271.6 L569.8,269.8 Z" fill="#fff" stroke="#1e1e1e" stroke-width="1.3" stroke-linejoin="round"/>
<path d="M566.5,286 Q566,278 572,272 Q576,268.5 583,268.5" fill="none" stroke="#cfcfcf" stroke-width="2.2"/>
<path d="M571,267.5 L578,264.5 M573,266.8 L574.5,267.5" fill="none" stroke="#444" stroke-width="0.9"/>
<g><path d="M371.1,489.2 L407.6,510 Q409,511.5 408.6,514 L409,523.5 L405,521.5 Q401.5,522 401.6,525.5 Q402,528 405,528.5 L409,527.5 L409,538 L405,537.5 Q401.5,538.5 401.6,541.5 Q402.2,544 405.2,544.5 L409,544 L409.1,553.1 L404.8,555.6 L393.5,551.9 L387.3,549.4 L345.6,527.6 L353.7,523.9 L353.7,512.6 L356.8,510.8 L353.7,506.4 L354.3,498.9 L356.6,498 L359.9,496.5 L360.5,494.6 Z" fill="#fff" stroke="#1e1e1e" stroke-width="1.4" stroke-linejoin="round" stroke-linecap="round"/><path d="M356.2,498.9 L392.3,520.1 Q395,521.5 394.8,524.5 L394.8,527 M354.9,507 L391.1,527 L394.8,527" fill="none" stroke="#1e1e1e" stroke-width="1.3" stroke-linejoin="round" stroke-linecap="round"/><path d="M359.9,496.5 L393.5,520.1 M361.8,495.8 L397.3,517 Q400,518.5 401.2,520.5" fill="none" stroke="#1e1e1e" stroke-width="1.2" stroke-linejoin="round" stroke-linecap="round"/><path d="M391.1,527 L391.1,543.8 L387.3,549.4 M391.1,543.8 L401.5,539" fill="none" stroke="#1e1e1e" stroke-width="1.2" stroke-linejoin="round" stroke-linecap="round"/><path d="M356.8,510.8 L391.1,530.5" fill="none" stroke="#777" stroke-width="0.9" stroke-linejoin="round" stroke-linecap="round"/><path d="M365,494.5 L400,514.5" fill="none" stroke="#d8d8d8" stroke-width="1.8" stroke-linejoin="round" stroke-linecap="round"/><path d="M394,531 L394,545" fill="none" stroke="#e0e0e0" stroke-width="1.6" stroke-linejoin="round" stroke-linecap="round"/></g>
<ellipse cx="357.4" cy="527.6" rx="3.8" ry="2.4" transform="rotate(22 357.4 527.6)" fill="#fff" stroke="#1e1e1e" stroke-width="1.2"/>
<ellipse cx="379.9" cy="541.3" rx="3.8" ry="2.4" transform="rotate(22 379.9 541.3)" fill="#fff" stroke="#1e1e1e" stroke-width="1.2"/>
<ellipse cx="357.6" cy="528.1" rx="2.2" ry="1.1" transform="rotate(22 357.6 528.1)" fill="#444"/><ellipse cx="380.1" cy="541.8" rx="2.2" ry="1.1" transform="rotate(22 380.1 541.8)" fill="#444"/>
<g transform="translate(619.5 471.3) rotate(-27)"><rect x="-4.75" y="-3.8" width="9.5" height="7.6" rx="2.5" fill="#f0f0f0" stroke="#1e1e1e" stroke-width="1.2"/></g>
<g transform="translate(625 469.3) rotate(-27)"><rect x="-1.5" y="-3.0" width="3" height="6" rx="2.5" fill="#fff" stroke="#1e1e1e" stroke-width="1.2"/></g>
<g transform="translate(630.2 467.3) rotate(-27)"><rect x="-3.5" y="-4.8" width="7" height="9.6" rx="3.5" fill="#e8e8e8" stroke="#1e1e1e" stroke-width="1.2"/></g>
<ellipse cx="635" cy="465.2" rx="2.3" ry="3.3" transform="rotate(-27 635 465.2)" fill="#fff" stroke="#1e1e1e" stroke-width="1.2"/>
<g transform="translate(508.4 589.8) rotate(-28)"><rect x="-4.75" y="-4.0" width="9.5" height="8" rx="2.5" fill="#f0f0f0" stroke="#1e1e1e" stroke-width="1.2"/></g>
<g transform="translate(502.5 592.8) rotate(-28)"><rect x="-1.5" y="-3.0" width="3" height="6" rx="2.5" fill="#fff" stroke="#1e1e1e" stroke-width="1.2"/></g>
<g transform="translate(497.7 595.4) rotate(-28)"><rect x="-3.5" y="-5.0" width="7" height="10" rx="3.5" fill="#e0e0e0" stroke="#1e1e1e" stroke-width="1.2"/></g>
<path d="M494,596 L490.5,598.5 M493.5,594 L491,595.5" stroke="#1e1e1e" stroke-width="1.2"/>
<g transform="translate(531.5 402.3) rotate(35)"><rect x="-3.0" y="-3.8" width="6" height="7.6" rx="2.2" fill="#fff" stroke="#1e1e1e" stroke-width="1.1"/><line x1="1.0" y1="-2.8" x2="1.0" y2="2.8" stroke="#bbb" stroke-width="1.4"/></g>
<g transform="translate(490.5 457.4) rotate(35)"><rect x="-3.0" y="-3.8" width="6" height="7.6" rx="2.2" fill="#fff" stroke="#1e1e1e" stroke-width="1.1"/><line x1="1.0" y1="-2.8" x2="1.0" y2="2.8" stroke="#bbb" stroke-width="1.4"/></g>
<path d="M503,365 L508,364.5 M506.5,384 L510.5,381 M472.5,428.5 L477,427.5 M355,383 L360,382" stroke="#aaa" stroke-width="1.2"/>
<path d="M628,610 L628,604 Q629.5,600 636.5,598.8 L657,610" fill="none" stroke="#555" stroke-width="1.6"/>
<path d="M640,601 L650,606.5" fill="none" stroke="#777" stroke-width="1.6" stroke-dasharray="1.5 1"/>
<circle cx="633" cy="605.8" r="2.3" fill="none" stroke="#444" stroke-width="1.1"/>
<path d="M636,604.5 L639,604.5 M636,607 L639,607" stroke="#888" stroke-width="1"/>
<rect x="11" y="251" width="4" height="5" fill="#ffffff"/>
<rect x="17" y="251" width="3" height="5" fill="#ffffff"/>
<rect x="11" y="269" width="4" height="5" fill="#ffffff"/>
<rect x="17" y="269" width="3" height="5" fill="#ffffff"/>
<rect x="164" y="322" width="4" height="5" fill="#ffffff"/>
<rect x="170" y="322" width="3" height="5" fill="#ffffff"/>
<rect x="354" y="110" width="4" height="5" fill="#ffffff"/>
<rect x="360" y="110" width="3" height="5" fill="#ffffff"/>
<rect x="363" y="110" width="2" height="5" fill="#ffffff"/>
<rect x="368" y="110" width="4" height="5" fill="#ffffff"/>
<rect x="354" y="128" width="4" height="5" fill="#ffffff"/>
<rect x="360" y="128" width="3" height="5" fill="#ffffff"/>
<rect x="539" y="27" width="4" height="5" fill="#ffffff"/>
<rect x="545" y="27" width="3" height="5" fill="#ffffff"/>
<rect x="618" y="225" width="4" height="5" fill="#ffffff"/>
<rect x="624" y="225" width="3" height="5" fill="#ffffff"/>
<rect x="278" y="21" width="3" height="5" fill="#aaede3"/>
<rect x="282" y="21" width="4" height="5" fill="#aaede3"/>
<rect x="577.4" y="24" width="0.7" height="5" fill="#b6bef0"/>
<rect x="578" y="24" width="2" height="5" fill="#b6bef0"/>
<rect x="582" y="24" width="3" height="5" fill="#b6bef0"/>
</svg>
</body></html>
